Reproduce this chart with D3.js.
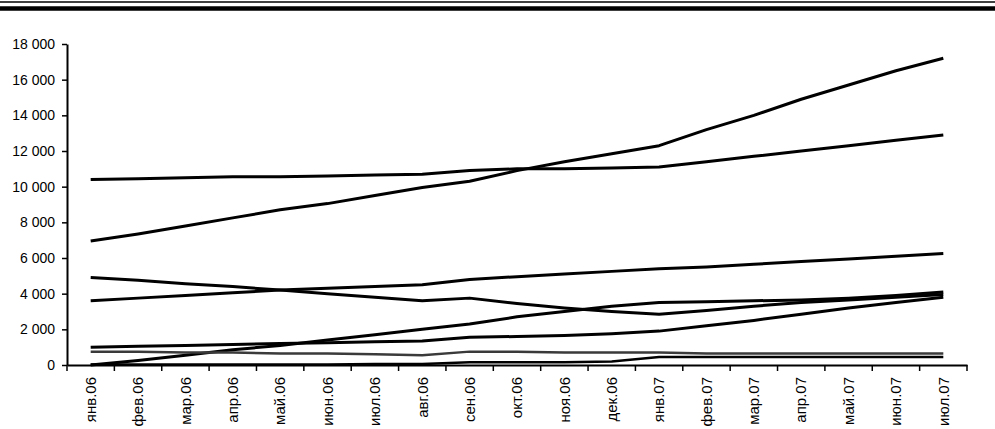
<!DOCTYPE html>
<html>
<head>
<meta charset="utf-8">
<script src="https://cdn.jsdelivr.net/npm/d3@7/dist/d3.min.js"></script>
<style>
  body { margin: 0; background: #fff; }
  svg { display: block; }
  text { font-family: 'Liberation Sans', Arial, sans-serif; fill: #000; }
</style>
</head>
<body>
<div id="chart"></div>
<script>
var months = ['янв.06', 'фев.06', 'мар.06', 'апр.06', 'май.06', 'июн.06', 'июл.06', 'авг.06',
  'сен.06', 'окт.06', 'ноя.06', 'дек.06', 'янв.07', 'фев.07', 'мар.07', 'апр.07', 'май.07', 'июн.07', 'июл.07']

var yTicks = [0, 2000, 4000, 6000, 8000, 10000, 12000, 14000, 16000, 18000]

// values, one array per line
var series1 = [10400, 10450, 10500, 10550, 10550, 10600, 10650, 10700, 10900, 11000, 11000, 11050, 11100, 11400, 11700, 12000, 12300, 12600, 12900]
var series2 = [6950, 7350, 7800, 8250, 8700, 9050, 9500, 9950, 10300, 10900, 11400, 11850, 12300, 13200, 14000, 14900, 15700, 16500, 17200]
var series3 = [4900, 4750, 4550, 4400, 4200, 4000, 3800, 3600, 3750, 3450, 3200, 3000, 2850, 3050, 3300, 3500, 3650, 3800, 3950]
var series4 = [3600, 3750, 3900, 4050, 4200, 4300, 4400, 4500, 4800, 4950, 5100, 5250, 5400, 5500, 5650, 5800, 5950, 6100, 6250]
var series5 = [1000, 1050, 1100, 1150, 1200, 1250, 1300, 1350, 1550, 1600, 1650, 1750, 1900, 2200, 2500, 2850, 3200, 3500, 3800]
var series6 = [0, 250, 550, 850, 1100, 1400, 1700, 2000, 2300, 2700, 3000, 3300, 3500, 3550, 3600, 3650, 3750, 3900, 4100]
var series7 = [750, 750, 700, 700, 650, 650, 600, 550, 750, 750, 700, 700, 700, 650, 650, 650, 650, 650, 650]
var series8 = [30, 30, 30, 30, 30, 30, 50, 50, 150, 150, 150, 200, 450, 450, 450, 450, 450, 450, 450]

var lines = [
  { values: series1, color: '#000', width: 3 },
  { values: series2, color: '#000', width: 3 },
  { values: series3, color: '#000', width: 3 },
  { values: series4, color: '#000', width: 3 },
  { values: series5, color: '#000', width: 3 },
  { values: series6, color: '#000', width: 3 },
  { values: series7, color: '#3a3a3a', width: 2.5 },
  { values: series8, color: '#000', width: 2.5 }
]

var width = 995
var height = 429
var margin = { top: 44, right: 28, bottom: 64, left: 67 }
var w = width - margin.left - margin.right
var h = height - margin.top - margin.bottom

var svg = d3.select('#chart')
  .append('svg')
  .attr('width', width)
  .attr('height', height)

// scanned page border at the top
svg.append('line')
  .attr('x1', 0).attr('x2', width)
  .attr('y1', 2).attr('y2', 2)
  .attr('stroke', '#000').attr('stroke-width', 1.5)
svg.append('line')
  .attr('x1', 0).attr('x2', width)
  .attr('y1', 8.5).attr('y2', 8.5)
  .attr('stroke', '#000').attr('stroke-width', 4.5)

var g = svg.append('g')
  .attr('transform', 'translate(' + margin.left + ',' + margin.top + ')')

var x = d3.scaleBand().domain(months).range([0, w]).padding(0)
var y = d3.scaleLinear().domain([0, 18000]).range([h, 0])

var fmt = function (d) {
  return d3.format(',')(d).replace(/,/g, ' ')
}

// y axis
var yAxis = g.append('g')
  .call(d3.axisLeft(y).tickValues(yTicks).tickFormat(fmt).tickSize(5).tickSizeOuter(0))
yAxis.select('.domain').attr('stroke', '#000').attr('stroke-width', 2)
yAxis.selectAll('.tick line').attr('stroke', '#000').attr('stroke-width', 1.5)
yAxis.selectAll('text')
  .attr('x', -12)
  .style('font-size', '14px')

// x axis, ticks between categories
var xAxis = g.append('g')
  .attr('transform', 'translate(0,' + h + ')')
  .call(d3.axisBottom(x).tickSize(0).tickSizeOuter(0))
xAxis.select('.domain').attr('stroke', '#000').attr('stroke-width', 2)
xAxis.selectAll('text')
  .attr('transform', 'rotate(-90)')
  .attr('x', -12)
  .attr('y', 0)
  .attr('dy', '0.35em')
  .attr('text-anchor', 'end')
  .style('font-size', '15px')

g.append('g')
  .selectAll('line')
  .data(months.concat(['end']))
  .enter()
  .append('line')
  .attr('x1', function (d, i) { return i * x.step() })
  .attr('x2', function (d, i) { return i * x.step() })
  .attr('y1', h)
  .attr('y2', h + 6)
  .attr('stroke', '#000')
  .attr('stroke-width', 1.5)

var line = d3.line()
  .x(function (d, i) { return x(months[i]) + x.bandwidth() / 2 })
  .y(function (d) { return y(d) })

g.selectAll('.series')
  .data(lines)
  .enter()
  .append('path')
  .attr('class', 'series')
  .attr('d', function (d) { return line(d.values) })
  .attr('fill', 'none')
  .attr('stroke', function (d) { return d.color })
  .attr('stroke-width', function (d) { return d.width })
  .attr('stroke-linejoin', 'round')
</script>
</body>
</html>
